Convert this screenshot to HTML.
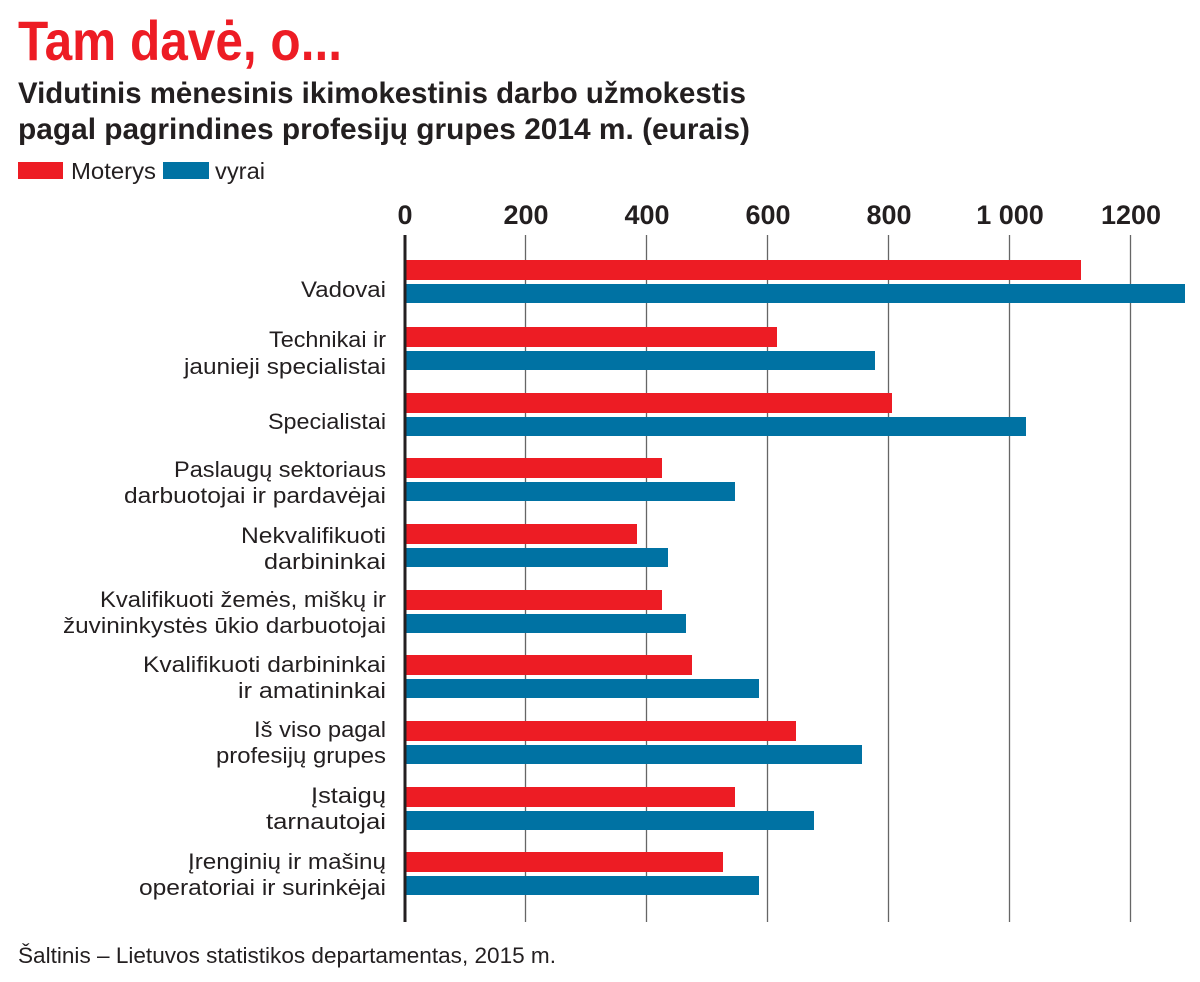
<!DOCTYPE html>
<html><head><meta charset="utf-8"><style>body{margin:0;background:#fff}svg{display:block}</style></head><body>
<svg width="1200" height="982" xmlns="http://www.w3.org/2000/svg" font-family="Liberation Sans, DejaVu Sans, sans-serif">
<text x="18" y="60" font-size="56" font-weight="bold" fill="#ed1c24" textLength="324" lengthAdjust="spacingAndGlyphs">Tam davė, o...</text>
<text x="18" y="103" font-size="30" font-weight="bold" fill="#231f20" textLength="728" lengthAdjust="spacingAndGlyphs">Vidutinis mėnesinis ikimokestinis darbo užmokestis</text>
<text x="18" y="139" font-size="30" font-weight="bold" fill="#231f20" textLength="732" lengthAdjust="spacingAndGlyphs">pagal pagrindines profesijų grupes 2014 m. (eurais)</text>
<rect x="18" y="162" width="45" height="17" fill="#ed1c24"/>
<text x="71" y="179" font-size="23" fill="#231f20" textLength="85" lengthAdjust="spacingAndGlyphs">Moterys</text>
<rect x="163" y="162" width="46" height="17" fill="#0072a3"/>
<text x="215" y="179" font-size="23" fill="#231f20" textLength="50" lengthAdjust="spacingAndGlyphs">vyrai</text>
<g font-size="27" font-weight="bold" fill="#231f20" text-anchor="middle">
<text x="405" y="224">0</text><text x="526" y="224">200</text><text x="647" y="224">400</text><text x="768" y="224">600</text><text x="889" y="224">800</text><text x="1010" y="224">1 000</text><text x="1131" y="224">1200</text>
</g>
<g stroke="#666" stroke-width="1.3">
<line x1="525.5" y1="235" x2="525.5" y2="922"/><line x1="646.5" y1="235" x2="646.5" y2="922"/><line x1="767.5" y1="235" x2="767.5" y2="922"/><line x1="888.5" y1="235" x2="888.5" y2="922"/><line x1="1009.5" y1="235" x2="1009.5" y2="922"/><line x1="1130.5" y1="235" x2="1130.5" y2="922"/>
</g>
<g>
<rect x="406" y="260" width="675" height="20" fill="#ed1c24"/><rect x="406" y="284" width="779" height="19" fill="#0072a3"/>
<rect x="406" y="327" width="371" height="20" fill="#ed1c24"/><rect x="406" y="351" width="469" height="19" fill="#0072a3"/>
<rect x="406" y="393" width="486" height="20" fill="#ed1c24"/><rect x="406" y="417" width="620" height="19" fill="#0072a3"/>
<rect x="406" y="458" width="256" height="20" fill="#ed1c24"/><rect x="406" y="482" width="329" height="19" fill="#0072a3"/>
<rect x="406" y="524" width="231" height="20" fill="#ed1c24"/><rect x="406" y="548" width="262" height="19" fill="#0072a3"/>
<rect x="406" y="590" width="256" height="20" fill="#ed1c24"/><rect x="406" y="614" width="280" height="19" fill="#0072a3"/>
<rect x="406" y="655" width="286" height="20" fill="#ed1c24"/><rect x="406" y="679" width="353" height="19" fill="#0072a3"/>
<rect x="406" y="721" width="390" height="20" fill="#ed1c24"/><rect x="406" y="745" width="456" height="19" fill="#0072a3"/>
<rect x="406" y="787" width="329" height="20" fill="#ed1c24"/><rect x="406" y="811" width="408" height="19" fill="#0072a3"/>
<rect x="406" y="852" width="317" height="20" fill="#ed1c24"/><rect x="406" y="876" width="353" height="19" fill="#0072a3"/>
</g>
<line x1="405" y1="235" x2="405" y2="922" stroke="#231f20" stroke-width="3"/>
<g font-size="22" fill="#231f20" text-anchor="end">
<text x="386" y="297" textLength="85" lengthAdjust="spacingAndGlyphs">Vadovai</text>
<text x="386" y="347" textLength="117" lengthAdjust="spacingAndGlyphs">Technikai ir</text>
<text x="386" y="374" textLength="202" lengthAdjust="spacingAndGlyphs">jaunieji specialistai</text>
<text x="386" y="429" textLength="118" lengthAdjust="spacingAndGlyphs">Specialistai</text>
<text x="386" y="477" textLength="212" lengthAdjust="spacingAndGlyphs">Paslaugų sektoriaus</text>
<text x="386" y="503" textLength="262" lengthAdjust="spacingAndGlyphs">darbuotojai ir pardavėjai</text>
<text x="386" y="543" textLength="145" lengthAdjust="spacingAndGlyphs">Nekvalifikuoti</text>
<text x="386" y="569" textLength="122" lengthAdjust="spacingAndGlyphs">darbininkai</text>
<text x="386" y="607" textLength="286" lengthAdjust="spacingAndGlyphs">Kvalifikuoti žemės, miškų ir</text>
<text x="386" y="633" textLength="323" lengthAdjust="spacingAndGlyphs">žuvininkystės ūkio darbuotojai</text>
<text x="386" y="672" textLength="243" lengthAdjust="spacingAndGlyphs">Kvalifikuoti darbininkai</text>
<text x="386" y="698" textLength="148" lengthAdjust="spacingAndGlyphs">ir amatininkai</text>
<text x="386" y="737" textLength="132" lengthAdjust="spacingAndGlyphs">Iš viso pagal</text>
<text x="386" y="763" textLength="170" lengthAdjust="spacingAndGlyphs">profesijų grupes</text>
<text x="386" y="803" textLength="75" lengthAdjust="spacingAndGlyphs">Įstaigų</text>
<text x="386" y="829" textLength="120" lengthAdjust="spacingAndGlyphs">tarnautojai</text>
<text x="386" y="869" textLength="198" lengthAdjust="spacingAndGlyphs">Įrenginių ir mašinų</text>
<text x="386" y="895" textLength="247" lengthAdjust="spacingAndGlyphs">operatoriai ir surinkėjai</text>
</g>
<text x="18" y="963" font-size="22" fill="#231f20" textLength="538" lengthAdjust="spacingAndGlyphs">Šaltinis – Lietuvos statistikos departamentas, 2015 m.</text>
</svg>
</body></html>
